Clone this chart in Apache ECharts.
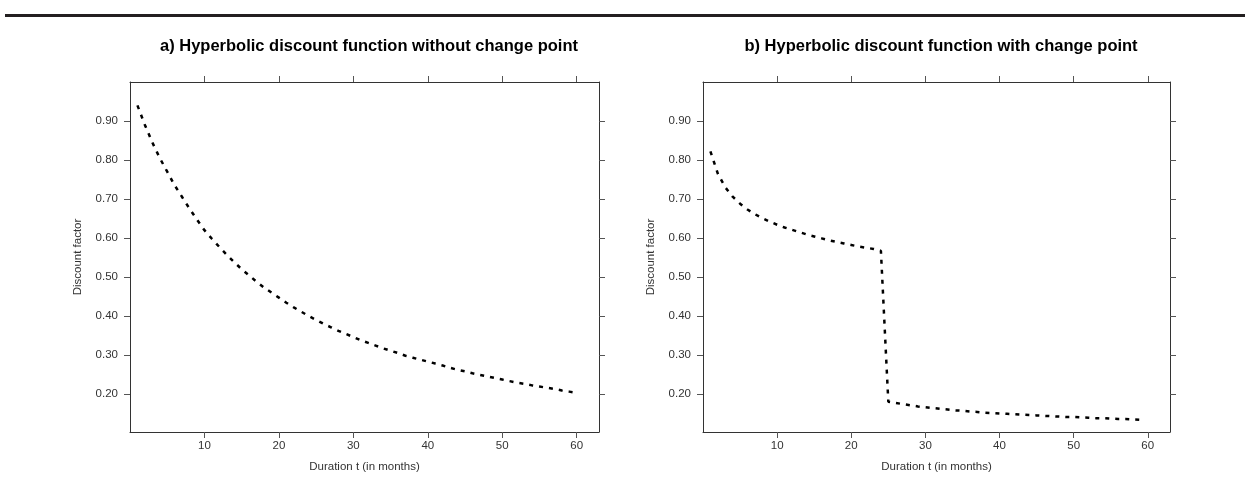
<!DOCTYPE html>
<html>
<head>
<meta charset="utf-8">
<title>Hyperbolic discount functions</title>
<script src="https://cdn.jsdelivr.net/npm/echarts@6/dist/echarts.min.js"></script>
<style>
  html, body { margin: 0; padding: 0; background: #ffffff; }
  #chart { width: 1245px; height: 497px; }
</style>
</head>
<body>
<div id="chart"></div>
<script>
// Panel titles and axis names
const panelTitles = [
  'a) Hyperbolic discount function without change point',
  'b) Hyperbolic discount function with change point'
];
const xAxisName = 'Duration t (in months)';
const yAxisName = 'Discount factor';

// Tick positions
const xTicks = [10, 20, 30, 40, 50, 60];
const yTicks = [0.2, 0.3, 0.4, 0.5, 0.6, 0.7, 0.8, 0.9];

// a) Discount factor without change point, months 1..60
const monthsA = [1, 2, 3, 4, 5, 6, 7, 8, 9, 10, 11, 12, 13, 14, 15, 16, 17, 18, 19, 20,
  21, 22, 23, 24, 25, 26, 27, 28, 29, 30, 31, 32, 33, 34, 35, 36, 37, 38, 39, 40,
  41, 42, 43, 44, 45, 46, 47, 48, 49, 50, 51, 52, 53, 54, 55, 56, 57, 58, 59, 60];
const discountA = [0.940, 0.890, 0.845, 0.805, 0.770, 0.735, 0.705, 0.675, 0.647, 0.620,
  0.598, 0.577, 0.557, 0.538, 0.520, 0.504, 0.488, 0.473, 0.460, 0.447,
  0.434, 0.422, 0.411, 0.400, 0.390, 0.380, 0.371, 0.362, 0.354, 0.346,
  0.338, 0.331, 0.324, 0.317, 0.311, 0.305, 0.298, 0.293, 0.288, 0.283,
  0.278, 0.273, 0.267, 0.262, 0.258, 0.253, 0.249, 0.245, 0.241, 0.237,
  0.233, 0.229, 0.226, 0.222, 0.219, 0.216, 0.213, 0.209, 0.206, 0.203];

// b) Discount factor with change point after month 24, months 1..59
const monthsB = [1, 2, 3, 4, 5, 6, 7, 8, 9, 10, 11, 12, 13, 14, 15, 16, 17, 18, 19, 20,
  21, 22, 23, 24, 25, 26, 27, 28, 29, 30, 31, 32, 33, 34, 35, 36, 37, 38, 39, 40,
  41, 42, 43, 44, 45, 46, 47, 48, 49, 50, 51, 52, 53, 54, 55, 56, 57, 58, 59];
const discountB = [0.822, 0.765, 0.730, 0.706, 0.688, 0.673, 0.661, 0.651, 0.642, 0.634,
  0.627, 0.621, 0.615, 0.609, 0.604, 0.599, 0.594, 0.590, 0.586, 0.582,
  0.578, 0.575, 0.572, 0.567, 0.180, 0.177, 0.174, 0.171, 0.168, 0.166,
  0.164, 0.162, 0.160, 0.158, 0.157, 0.155, 0.154, 0.152, 0.151, 0.150,
  0.149, 0.148, 0.147, 0.146, 0.145, 0.144, 0.143, 0.142, 0.141, 0.141,
  0.140, 0.139, 0.138, 0.138, 0.137, 0.136, 0.136, 0.135, 0.134];

const FONT = '"Liberation Sans", Arial, Helvetica, sans-serif';
const TEXT = '#333333';
const BOX = '#333333';
const TICK = '#555555';

const X_MIN = 0, X_MAX = 63;
const Y_MIN = 0.1025, Y_MAX = 1.0;

const grids = [
  { left: 130, top: 82, width: 469, height: 350 },
  { left: 703, top: 82, width: 467, height: 350 }
];

function xAxes(gridIndex) {
  const base = {
    type: 'value', gridIndex, min: X_MIN, max: X_MAX,
    splitLine: { show: false },
    axisLine: { show: true, onZero: false, lineStyle: { color: BOX, width: 1 } },
    axisTick: { show: true, inside: false, length: 6, customValues: xTicks, lineStyle: { color: TICK, width: 1 } }
  };
  return [
    Object.assign({}, base, {
      position: 'bottom',
      name: xAxisName, nameLocation: 'middle', nameGap: 29,
      nameTextStyle: { fontFamily: FONT, fontSize: 11.5, color: TEXT },
      axisLabel: { show: true, margin: 8, customValues: xTicks, fontFamily: FONT, fontSize: 11.5, color: TEXT }
    }),
    Object.assign({}, base, { position: 'top', axisLabel: { show: false } })
  ];
}

function yAxes(gridIndex) {
  const base = {
    type: 'value', gridIndex, min: Y_MIN, max: Y_MAX,
    splitLine: { show: false },
    axisLine: { show: true, onZero: false, lineStyle: { color: BOX, width: 1 } },
    axisTick: { show: true, inside: false, length: 6, customValues: yTicks, lineStyle: { color: TICK, width: 1 } }
  };
  return [
    Object.assign({}, base, {
      position: 'left',
      name: yAxisName, nameLocation: 'middle', nameGap: 46,
      nameTextStyle: { fontFamily: FONT, fontSize: 11.5, color: TEXT },
      axisLabel: {
        show: true, margin: 12, customValues: yTicks,
        formatter: v => v.toFixed(2),
        fontFamily: FONT, fontSize: 11.5, color: TEXT
      }
    }),
    Object.assign({}, base, { position: 'right', axisLabel: { show: false } })
  ];
}

function toPairs(xs, ys) {
  return xs.map((x, i) => [x, ys[i]]);
}

const curveStyle = { color: '#000000', width: 2.5, type: [4, 6], cap: 'butt' };
const titleStyle = { fontFamily: FONT, fontSize: 16.5, fontWeight: 'bold', color: '#000' };

const option = {
  animation: false,
  backgroundColor: '#ffffff',
  title: [
    { text: panelTitles[0], left: 364, top: 33, textAlign: 'center', textStyle: titleStyle },
    { text: panelTitles[1], left: 936, top: 33, textAlign: 'center', textStyle: titleStyle }
  ],
  graphic: [
    { type: 'rect', shape: { x: 5, y: 14, width: 1240, height: 3 }, style: { fill: '#231f20' } }
  ],
  grid: grids,
  xAxis: [...xAxes(0), ...xAxes(1)],
  yAxis: [...yAxes(0), ...yAxes(1)],
  series: [
    {
      type: 'line', xAxisIndex: 0, yAxisIndex: 0,
      data: toPairs(monthsA, discountA),
      showSymbol: false, smooth: false, lineStyle: curveStyle
    },
    {
      type: 'line', xAxisIndex: 2, yAxisIndex: 2,
      data: toPairs(monthsB, discountB),
      showSymbol: false, smooth: false, lineStyle: curveStyle
    }
  ]
};

const chart = echarts.init(document.getElementById('chart'), null, { renderer: 'canvas' });
chart.setOption(option);
</script>
</body>
</html>
